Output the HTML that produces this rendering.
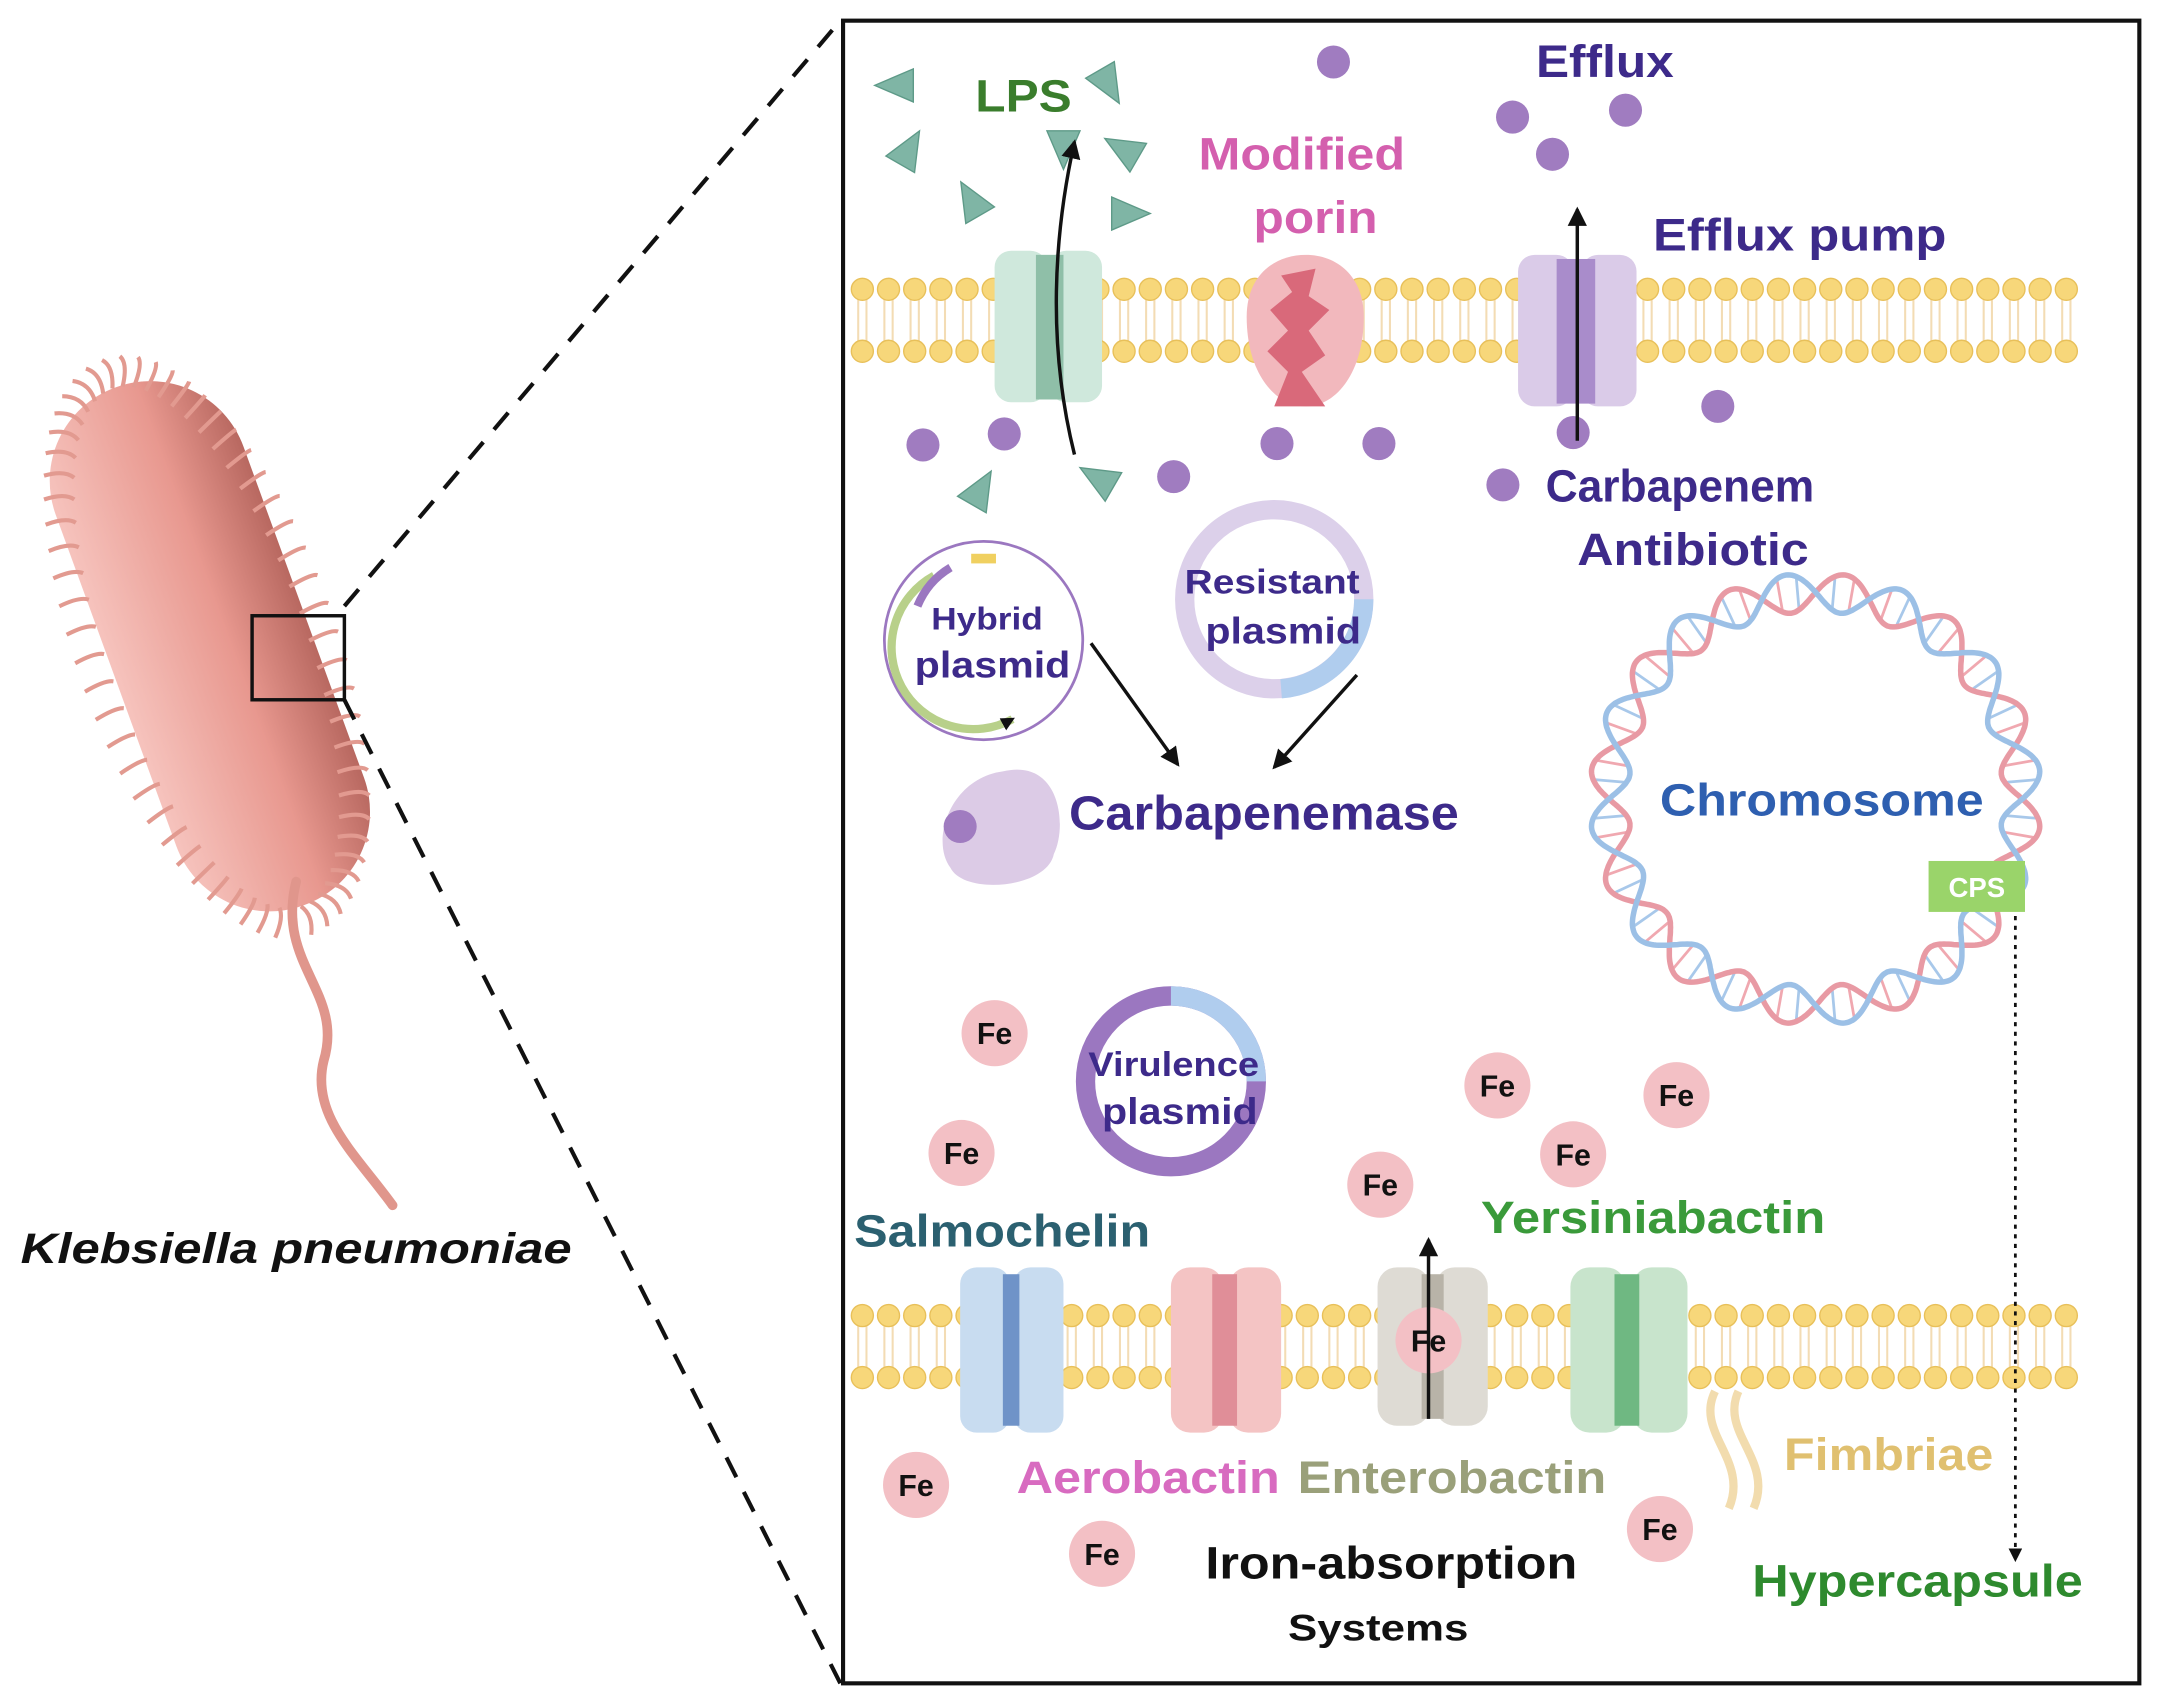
<!DOCTYPE html>
<html><head><meta charset="utf-8"><style>
html,body{margin:0;padding:0;background:#fff}
svg{display:block}
text{font-family:"Liberation Sans",sans-serif;font-weight:bold}
</style></head><body>
<svg id="s" width="2160" height="1704" viewBox="0 0 1568 1237" preserveAspectRatio="none" xmlns="http://www.w3.org/2000/svg">
<defs>
<marker id="ah" markerWidth="10" markerHeight="10" refX="8" refY="5" orient="auto" markerUnits="userSpaceOnUse"><path d="M0,0 L10,5 L0,10 z" fill="#111"/></marker>
<marker id="ah2" markerWidth="14" markerHeight="14" refX="12" refY="7" orient="auto" markerUnits="userSpaceOnUse"><path d="M0,0 L14,7 L0,14 z" fill="#111"/></marker>
<linearGradient id="bg" x1="0" y1="0" x2="1" y2="0"><stop offset="0" stop-color="#f6c3bd"/><stop offset="0.6" stop-color="#e8988f"/><stop offset="1" stop-color="#b86860"/></linearGradient>
</defs>
<g transform="rotate(-20 150 470)">
<rect x="80" y="270" width="145" height="400" rx="72" fill="url(#bg)"/>
</g>
<g id="hairs" stroke="#e29a90" stroke-width="3" fill="none"></g>
<path d="M215,640 C200,700 250,720 235,770 C225,810 260,840 285,875" stroke="#e0968c" stroke-width="7" fill="none" stroke-linecap="round"/>
<rect x="183" y="447" width="67" height="61" fill="none" stroke="#111" stroke-width="2.5"/>
<line x1="250" y1="440" x2="610" y2="15" stroke="#111" stroke-width="3" stroke-dasharray="16,12"/>
<line x1="250" y1="508" x2="610" y2="1222" stroke="#111" stroke-width="3" stroke-dasharray="16,12"/>
<text x="15" y="917" font-size="31" font-style="italic" fill="#111" textLength="400" lengthAdjust="spacingAndGlyphs">Klebsiella pneumoniae</text>
<rect x="612" y="15" width="941" height="1207" fill="none" stroke="#111" stroke-width="3"/>
<g id="mem"></g>
<rect x="722" y="182" width="38" height="110" rx="12" fill="#cfe8dc"/>
<rect x="762" y="182" width="38" height="110" rx="12" fill="#cfe8dc"/>
<rect x="752" y="185" width="20" height="105" fill="#8fbfa8"/>
<path d="M905,230 C905,200 925,185 948,185 C970,185 990,200 990,230 C990,270 970,295 948,295 C925,295 905,270 905,230z" fill="#f2b8bd"/>
<path d="M930,200 L955,195 L950,215 L965,225 L950,240 L962,258 L945,270 L962,295 L925,295 L935,270 L920,255 L935,240 L922,225 L938,212z" fill="#d9697a"/>
<rect x="1102" y="185" width="40" height="110" rx="12" fill="#dacbe8"/>
<rect x="1148" y="185" width="40" height="110" rx="12" fill="#dacbe8"/>
<rect x="1130" y="188" width="28" height="105" fill="#a98ccb"/>
<rect x="697" y="920" width="36" height="120" rx="12" fill="#c8dcf0"/><rect x="736" y="920" width="36" height="120" rx="12" fill="#c8dcf0"/><rect x="728" y="925" width="12" height="110" fill="#6f93c8"/>
<rect x="850" y="920" width="38" height="120" rx="14" fill="#f4c4c4"/><rect x="892" y="920" width="38" height="120" rx="14" fill="#f4c4c4"/><rect x="880" y="925" width="18" height="110" fill="#e08e98"/>
<rect x="1000" y="920" width="38" height="115" rx="14" fill="#dedbd4"/><rect x="1042" y="920" width="38" height="115" rx="14" fill="#dedbd4"/><rect x="1032" y="925" width="16" height="105" fill="#b8b3a8"/>
<rect x="1140" y="920" width="40" height="120" rx="14" fill="#c8e4cc"/><rect x="1185" y="920" width="40" height="120" rx="14" fill="#c8e4cc"/><rect x="1172" y="925" width="18" height="110" fill="#6fb882"/>
<g stroke="#f2dcae" stroke-width="6" fill="none"><path d="M1245,1010 C1230,1040 1270,1060 1255,1095"/><path d="M1262,1010 C1248,1040 1288,1060 1273,1095"/></g>
<circle cx="714" cy="465" r="72" fill="#fff" stroke="#9b77c0" stroke-width="2"/>
<path d="M678,418 A58,58 0 0,0 735,522" fill="none" stroke="#b8d08a" stroke-width="6" marker-end="url(#ah)"/>
<path d="M666,440 A58,58 0 0,1 690,412" fill="none" stroke="#9b77c0" stroke-width="6"/>
<rect x="705" y="402" width="18" height="7" fill="#f0d060"/>
<circle cx="925" cy="435" r="65" fill="none" stroke="#dcd0ea" stroke-width="14"/>
<path d="M990,435 A65,65 0 0,1 930,500" fill="none" stroke="#b0cdee" stroke-width="14"/>
<circle cx="850" cy="785" r="62" fill="none" stroke="#9b77c0" stroke-width="14"/>
<path d="M850,723 A62,62 0 0,1 912,785" fill="none" stroke="#b0cdee" stroke-width="14"/>
<path d="M728,560 C770,550 775,600 765,620 C760,645 700,650 690,630 C675,610 690,565 728,560z" fill="#dccbe6"/>
<g id="dots"></g>
<g id="chr"></g>
<rect x="1400" y="625" width="70" height="37" fill="#9ad46a"/>
<text x="1435" y="651" font-size="20" fill="#fff" text-anchor="middle" font-weight="normal">CPS</text>
<path d="M780,330 C760,250 765,170 780,103" stroke="#111" stroke-width="2.5" fill="none" marker-end="url(#ah2)"/>
<line x1="1145" y1="320" x2="1145" y2="152" stroke="#111" stroke-width="2.5" marker-end="url(#ah2)"/>
<line x1="792" y1="467" x2="855" y2="555" stroke="#111" stroke-width="2.5" marker-end="url(#ah2)"/>
<line x1="985" y1="490" x2="925" y2="557" stroke="#111" stroke-width="2.5" marker-end="url(#ah2)"/>
<line x1="1463" y1="665" x2="1463" y2="1132" stroke="#111" stroke-width="2" stroke-dasharray="3,4" marker-end="url(#ah)"/>
<g id="fe"></g>
<line x1="1037" y1="1030" x2="1037" y2="900" stroke="#111" stroke-width="2.5" marker-end="url(#ah2)"/>
<g lengthAdjust="spacingAndGlyphs">
<text x="708" y="81" font-size="33" fill="#3a7d2c" textLength="70" lengthAdjust="spacingAndGlyphs">LPS</text>
<text x="870" y="123" font-size="33" fill="#d45fae" textLength="150" lengthAdjust="spacingAndGlyphs">Modified</text>
<text x="910" y="169" font-size="33" fill="#d45fae" textLength="90" lengthAdjust="spacingAndGlyphs">porin</text>
<text x="1115" y="56" font-size="33" fill="#3d2a8a" textLength="100" lengthAdjust="spacingAndGlyphs">Efflux</text>
<text x="1200" y="182" font-size="33" fill="#3d2a8a" textLength="213" lengthAdjust="spacingAndGlyphs">Efflux pump</text>
<text x="1122" y="364" font-size="33" fill="#3d2a8a" textLength="195" lengthAdjust="spacingAndGlyphs">Carbapenem</text>
<text x="1145" y="410" font-size="33" fill="#3d2a8a" textLength="168" lengthAdjust="spacingAndGlyphs">Antibiotic</text>
<text x="676" y="457" font-size="23" fill="#3d2a8a" textLength="81" lengthAdjust="spacingAndGlyphs">Hybrid</text>
<text x="664" y="492" font-size="27" fill="#3d2a8a" textLength="113" lengthAdjust="spacingAndGlyphs">plasmid</text>
<text x="860" y="431" font-size="25" fill="#3d2a8a" textLength="127" lengthAdjust="spacingAndGlyphs">Resistant</text>
<text x="875" y="467" font-size="27" fill="#3d2a8a" textLength="113" lengthAdjust="spacingAndGlyphs">plasmid</text>
<text x="776" y="602" font-size="35" fill="#3d2a8a" textLength="283" lengthAdjust="spacingAndGlyphs">Carbapenemase</text>
<text x="1205" y="592" font-size="33" fill="#2e5fb0" textLength="235" lengthAdjust="spacingAndGlyphs">Chromosome</text>
<text x="790" y="781" font-size="25" fill="#3d2a8a" textLength="124" lengthAdjust="spacingAndGlyphs">Virulence</text>
<text x="800" y="816" font-size="27" fill="#3d2a8a" textLength="113" lengthAdjust="spacingAndGlyphs">plasmid</text>
<text x="620" y="905" font-size="33" fill="#2b6070" textLength="215" lengthAdjust="spacingAndGlyphs">Salmochelin</text>
<text x="1075" y="895" font-size="33" fill="#3a9a3a" textLength="250" lengthAdjust="spacingAndGlyphs">Yersiniabactin</text>
<text x="738" y="1084" font-size="33" fill="#d86bc0" textLength="191" lengthAdjust="spacingAndGlyphs">Aerobactin</text>
<text x="942" y="1084" font-size="33" fill="#9aa07a" textLength="224" lengthAdjust="spacingAndGlyphs">Enterobactin</text>
<text x="1295" y="1067" font-size="33" fill="#e0c070" textLength="152" lengthAdjust="spacingAndGlyphs">Fimbriae</text>
<text x="875" y="1146" font-size="33" fill="#111" textLength="270" lengthAdjust="spacingAndGlyphs">Iron-absorption</text>
<text x="935" y="1191" font-size="27" fill="#111" textLength="131" lengthAdjust="spacingAndGlyphs">Systems</text>
<text x="1272" y="1159" font-size="33" fill="#2e8a2e" textLength="240" lengthAdjust="spacingAndGlyphs">Hypercapsule</text>
</g>
</svg>
<script>
var NS="http://www.w3.org/2000/svg";
function el(p,t,a){var e=document.createElementNS(NS,t);for(var k in a)e.setAttribute(k,a[k]);document.getElementById(p).appendChild(e);return e;}
[[210,255],[955,1000]].forEach(function(r){
 for(var x=626;x<=1515;x+=19){
  el("mem","line",{x1:x-3,y1:r[0],x2:x-3,y2:r[1],stroke:"#f3dcb4","stroke-width":1.5});
  el("mem","line",{x1:x+3,y1:r[0],x2:x+3,y2:r[1],stroke:"#f3dcb4","stroke-width":1.5});
  el("mem","circle",{cx:x,cy:r[0],r:8,fill:"#f7d77a",stroke:"#e8c05a","stroke-width":1});
  el("mem","circle",{cx:x,cy:r[1],r:8,fill:"#f7d77a",stroke:"#e8c05a","stroke-width":1});
 }});
for(var i=0;i<60;i++){
 var a=i/60*Math.PI*2;var cx=150,cy=470;
 var x=72*Math.cos(a),y=200*Math.sin(a);
 var c=Math.cos(-20*Math.PI/180),s=Math.sin(-20*Math.PI/180);
 var px=cx+x*c-y*s,py=cy+x*s+y*c;
 var nx=Math.cos(a),ny=Math.sin(a)*0.4;var nn=Math.hypot(nx,ny);nx/=nn;ny/=nn;
 var qx=nx*c-ny*s,qy=nx*s+ny*c;
 el("hairs","path",{d:"M"+px+","+py+" q"+(qx*12+5)+","+(qy*12-5)+" "+qx*22+","+qy*22});
}
[[968,45],[1098,85],[1180,80],[1127,112],[670,323],[729,315],[852,346],[927,322],[1001,322],[1247,295],[1142,314],[1091,352],[697,600]].forEach(function(p){
 el("dots","circle",{cx:p[0],cy:p[1],r:12,fill:"#a07cc0"});});
[[650,62,180],[805,62,60],[660,108,-60],[772,108,90],[815,108,-150],[705,145,-120],[820,155,0],[712,355,-60],[797,347,-150]].forEach(function(t){
 el("dots","polygon",{points:"-13,-12 15,0 -13,12",fill:"#7fb5a5",stroke:"#5e9a88","stroke-width":1,transform:"translate("+t[0]+","+t[1]+") rotate("+t[2]+")"});});
[[722,750],[698,837],[1087,788],[1217,795],[1142,838],[1002,860],[1037,973],[665,1078],[800,1128],[1205,1110]].forEach(function(p){
 el("fe","circle",{cx:p[0],cy:p[1],r:24,fill:"#f3c0c5"});
 var t=el("fe","text",{x:p[0],y:p[1]+8,"font-size":22,"text-anchor":"middle",fill:"#111"});t.textContent="Fe";});
var cx=1318,cy=580,R=150,n=12;var d1="",d2="";
for(var k=0;k<=720;k++){var a=k/720*Math.PI*2;var w=14*Math.sin(a*n);
 var x1=cx+(R+w)*Math.cos(a),y1=cy+(R+w)*Math.sin(a),x2=cx+(R-w)*Math.cos(a),y2=cy+(R-w)*Math.sin(a);
 d1+=(k?"L":"M")+x1.toFixed(1)+","+y1.toFixed(1);d2+=(k?"L":"M")+x2.toFixed(1)+","+y2.toFixed(1);
 if(k%10==0){var col=(k%20==0)?"#f0a8b0":"#a8c8ea";el("chr","line",{x1:x1,y1:y1,x2:x2,y2:y2,stroke:col,"stroke-width":2});}
}
el("chr","path",{d:d1,fill:"none",stroke:"#e89aa4","stroke-width":4});
el("chr","path",{d:d2,fill:"none",stroke:"#9cc0e6","stroke-width":4});
</script>
</body></html>
